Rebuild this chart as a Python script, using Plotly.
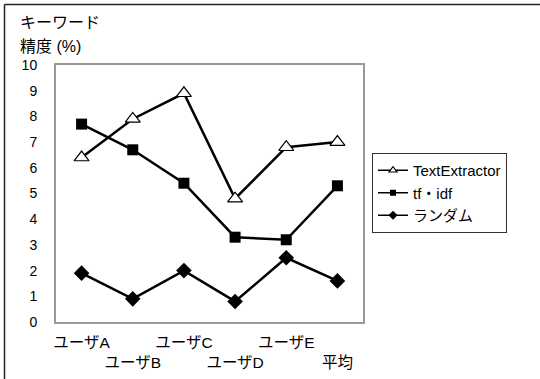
import plotly.graph_objects as go

# Categories (users + average) and keyword precision (%) per method
categories = ["ユーザA", "ユーザB", "ユーザC", "ユーザD", "ユーザE", "平均"]
text_extractor = [6.4, 7.9, 8.9, 4.8, 6.8, 7.0]
tf_idf = [7.7, 6.7, 5.4, 3.3, 3.2, 5.3]
random_pick = [1.9, 0.9, 2.0, 0.8, 2.5, 1.6]
y_ticks = list(range(0, 11))

W, H = 540, 379
L, R, T, B = 56, 363, 65, 322  # plot area in pixels


def px_x(px):
    return (px - L) / (R - L)


def px_y(py):
    return (B - py) / (B - T)


# staggered category labels: odd ones pushed to a second line
tick_text = [c if i % 2 == 0 else "<br>" + c for i, c in enumerate(categories)]

FONT = "Liberation Sans, Arial, Noto Sans CJK JP, sans-serif"

series = [
    ("TextExtractor", text_extractor,
     dict(symbol="triangle-up", color="white", line=dict(color="black", width=1.2)), 13, 7),
    ("tf・idf", tf_idf, dict(symbol="square", color="black"), 11, 6),
    ("ランダム", random_pick, dict(symbol="diamond", color="black"), 12, 7),
]

fig = go.Figure()
for name, values, mstyle, size, legend_size in series:
    # plotted line with full-size markers
    fig.add_trace(go.Scatter(
        x=categories, y=values, name=name, mode="lines+markers",
        line=dict(color="black", width=2.5),
        marker=dict(size=size, **mstyle), showlegend=False,
    ))
    # legend entry with compact marker
    fig.add_trace(go.Scatter(
        x=[None], y=[None], name=name, mode="lines+markers",
        line=dict(color="black", width=1.5),
        marker=dict(size=legend_size, **mstyle),
    ))

fig.update_layout(
    width=W, height=H,
    margin=dict(l=L, r=W - R, t=T, b=H - B),
    paper_bgcolor="white", plot_bgcolor="white",
    font=dict(family=FONT, size=14, color="black"),
    xaxis=dict(
        type="category", range=[-0.5, 5.5],
        tickvals=categories, ticktext=tick_text, tickangle=0,
        automargin=False,
        showline=True, mirror=True, linecolor="#999999", linewidth=2,
        showgrid=False, zeroline=False, ticks="", ticklabelstandoff=5,
        tickfont=dict(size=15.5),
    ),
    yaxis=dict(
        range=[0, 10], tickvals=y_ticks, automargin=False,
        showline=True, mirror=True, linecolor="#999999", linewidth=2,
        showgrid=False, zeroline=False, ticks="", ticklabelstandoff=14,
        tickfont=dict(size=14),
    ),
    legend=dict(
        x=px_x(372), y=px_y(153), xanchor="left", yanchor="top",
        bordercolor="#333333", borderwidth=1, bgcolor="white",
        font=dict(size=15), tracegroupgap=0, itemwidth=30,
    ),
    annotations=[
        dict(text="キーワード", xref="paper", yref="paper",
             x=px_x(18), y=px_y(23), xanchor="left", yanchor="middle",
             showarrow=False, font=dict(size=16)),
        dict(text="精度 (%)", xref="paper", yref="paper",
             x=px_x(18), y=px_y(46), xanchor="left", yanchor="middle",
             showarrow=False, font=dict(size=16)),
    ],
    shapes=[
        dict(type="line", xref="paper", yref="paper",
             x0=px_x(4.5), y0=px_y(4.5), x1=px_x(W + 2), y1=px_y(4.5),
             line=dict(color="#222222", width=1.5)),
        dict(type="line", xref="paper", yref="paper",
             x0=px_x(4.5), y0=px_y(4.5), x1=px_x(4.5), y1=px_y(H + 2),
             line=dict(color="#222222", width=1.5)),
    ],
)

fig.write_html("out.html")
